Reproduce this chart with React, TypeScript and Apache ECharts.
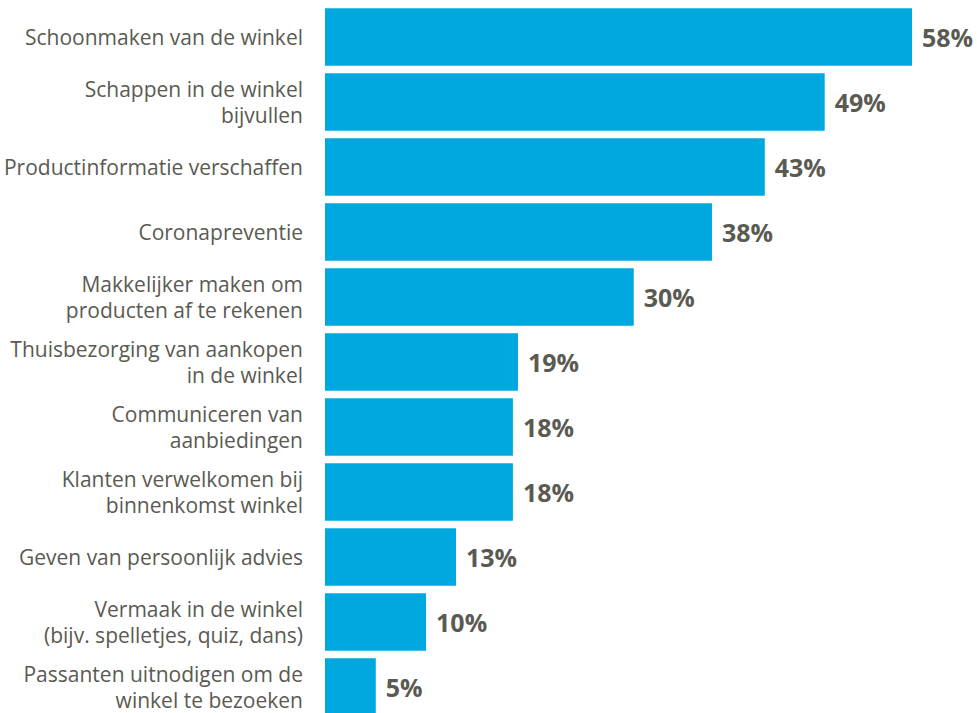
import React, { useEffect, useRef } from "react";
import * as echarts from "echarts";

const categories = [
  "Schoonmaken van de winkel",
  "Schappen in de winkel\nbijvullen",
  "Productinformatie verschaffen",
  "Coronapreventie",
  "Makkelijker maken om\nproducten af te rekenen",
  "Thuisbezorging van aankopen\nin de winkel",
  "Communiceren van\naanbiedingen",
  "Klanten verwelkomen bij\nbinnenkomst winkel",
  "Geven van persoonlijk advies",
  "Vermaak in de winkel\n(bijv. spelletjes, quiz, dans)",
  "Passanten uitnodigen om de\nwinkel te bezoeken",
];

const values = [57.8, 49.2, 43.3, 38.1, 30.4, 19.0, 18.5, 18.5, 12.9, 9.95, 5.0];
const valueLabels = ["58%", "49%", "43%", "38%", "30%", "19%", "18%", "18%", "13%", "10%", "5%"];

const TEXT = "#5a5a52";
const BAR = "#00a8e0";

export default function App() {
  const ref = useRef<HTMLDivElement>(null);
  useEffect(() => {
    if (!ref.current) return;
    const chart = echarts.init(ref.current, undefined, { renderer: "svg" });
    chart.setOption({
      animation: false,
      backgroundColor: "#ffffff",
      grid: { left: 325, top: 4.5, width: 650, height: 715, containLabel: false },
      xAxis: { type: "value", min: 0, max: 64, show: false },
      yAxis: {
        type: "category",
        data: categories,
        inverse: true,
        axisLine: { show: false },
        axisTick: { show: false },
        splitLine: { show: false },
        axisLabel: {
          margin: 22,
          fontSize: 21,
          lineHeight: 26,
          color: TEXT,
          fontFamily: "Open Sans",
          align: "right",
        },
      },
      series: [
        {
          type: "bar",
          data: values,
          barCategoryGap: "11.5%",
          itemStyle: { color: BAR },
          label: {
            show: true,
            position: "right",
            distance: 10,
            fontSize: 25,
            fontWeight: "bold",
            color: TEXT,
            fontFamily: "Open Sans",
            formatter: (p: any) => valueLabels[p.dataIndex],
          },
        },
      ],
    });
    return () => chart.dispose();
  }, []);
  return (
    <div
      ref={ref}
      style={{ position: "fixed", left: 0, top: 0, width: 977, height: 720 }}
    />
  );
}
